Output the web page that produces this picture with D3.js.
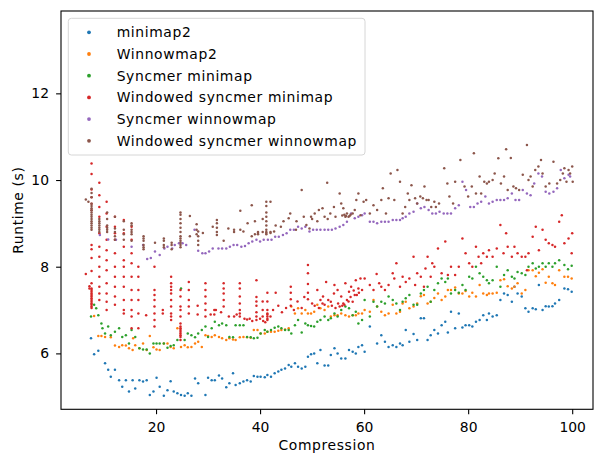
<!DOCTYPE html>
<meta charset="utf-8">
<style>
body { margin: 0; background: #fff; }
text { font-family: "DejaVu Sans", sans-serif; }
.lbl { letter-spacing: 0.62px; }
</style>
<body>
<script src="https://cdnjs.cloudflare.com/ajax/libs/d3/7.8.5/d3.min.js"></script>
<script>
// series values: [compression, runtime]
var minimap2 = [[7.5,6.35],[8.1,5.98],[8.9,6.06],[10.2,5.77],[10.8,5.62],[11.3,5.46],[12.1,5.62],[12.9,5.38],[13.5,5.23],[14.2,5.38],[14.8,5.12],[15.5,5.38],[16.0,5.19],[16.8,5.38],[17.5,5.35],[18.2,5.38],[18.8,5.04],[19.5,5.12],[20.1,5.44],[20.7,5.23],[21.5,5.02],[22.2,5.15],[22.8,5.36],[23.4,5.12],[24.1,5.08],[24.8,5.04],[25.5,5.02],[26.1,5.08],[26.8,5.02],[27.5,5.42],[28.1,5.31],[29.5,5.04],[30.0,5.44],[30.7,5.38],[31.3,5.38],[32.1,5.49],[32.7,5.42],[33.5,5.22],[34.1,5.31],[34.8,5.54],[35.3,5.27],[36.1,5.31],[36.8,5.35],[37.5,5.38],[38.2,5.35],[38.8,5.48],[39.5,5.46],[40.1,5.46],[40.9,5.45],[41.4,5.5],[42.1,5.46],[42.8,5.54],[43.5,5.58],[44.1,5.62],[44.8,5.65],[45.5,5.73],[46.0,5.69],[46.7,5.77],[47.3,5.69],[48.0,5.65],[48.7,5.69],[49.2,5.92],[49.8,5.98],[50.4,6.0],[51.0,5.77],[51.6,6.08],[52.4,5.72],[53.1,5.72],[53.6,5.96],[54.3,6.12],[54.9,6.0],[55.6,5.88],[56.4,5.88],[57.1,6.08],[57.8,6.04],[58.4,6.0],[58.9,6.15],[59.6,6.19],[60.1,6.04],[61.1,6.62],[62.5,6.23],[63.3,6.42],[64.0,6.27],[64.7,6.15],[65.5,6.19],[66.2,6.15],[66.9,6.23],[67.4,6.19],[68.0,6.54],[68.7,6.27],[69.5,6.45],[70.2,6.31],[70.9,6.81],[71.5,6.81],[72.2,6.31],[72.8,6.42],[73.5,6.54],[74.2,6.46],[74.9,6.65],[75.6,6.73],[76.1,6.48],[76.7,6.96],[77.5,6.58],[78.2,6.92],[78.9,6.6],[79.5,6.65],[80.2,6.65],[80.8,6.62],[81.5,6.73],[82.2,6.77],[82.9,6.88],[83.6,6.77],[84.0,6.92],[84.7,6.85],[85.5,6.88],[86.2,7.23],[86.9,7.38],[87.6,7.35],[88.4,7.19],[88.9,7.54],[89.5,7.38],[90.3,7.31],[91.0,7.04],[91.6,6.96],[92.4,7.04],[93.0,7.02],[93.6,7.58],[94.3,7.0],[94.9,7.09],[95.5,7.08],[96.2,7.09],[96.7,7.15],[97.5,7.23],[98.5,7.5],[99.2,7.48],[99.9,7.42]];

var winnowmap2 = [[8.1,6.86],[8.9,6.4],[9.5,6.4],[10.2,6.38],[11.3,6.37],[12.1,6.18],[12.9,6.15],[13.5,6.19],[14.2,6.18],[14.8,6.12],[15.5,6.08],[15.6,6.35],[16.0,6.19],[16.8,6.12],[17.5,6.23],[18.2,6.08],[18.8,6.4],[19.5,6.14],[20.1,6.09],[20.7,6.08],[21.5,6.23],[22.2,6.23],[22.8,6.15],[23.4,6.12],[24.1,6.58],[24.8,6.15],[25.5,6.19],[26.1,6.14],[26.8,6.15],[27.5,6.23],[28.1,6.27],[28.8,6.15],[29.5,6.42],[30.0,6.4],[30.7,6.38],[31.3,6.42],[32.1,6.38],[32.7,6.35],[33.5,6.31],[34.1,6.35],[34.8,6.32],[35.3,6.31],[36.1,6.37],[36.8,6.38],[37.5,6.37],[38.2,6.36],[38.8,6.54],[39.5,6.54],[40.1,6.46],[40.9,6.46],[41.4,6.5],[42.1,6.5],[42.8,6.5],[43.5,6.52],[44.1,6.54],[44.8,6.55],[45.5,6.58],[46.0,7.08],[46.7,6.92],[47.3,7.04],[48.0,6.92],[48.7,7.0],[49.2,6.92],[49.8,6.92],[50.4,6.96],[51.0,7.12],[51.6,7.04],[52.4,7.0],[53.1,7.08],[53.6,6.85],[54.3,6.88],[54.9,6.88],[55.6,6.92],[56.4,6.88],[57.1,6.85],[57.8,6.88],[58.4,6.88],[58.9,6.92],[59.6,6.92],[60.1,7.0],[61.1,6.96],[61.8,7.23],[62.5,7.08],[63.3,6.96],[64.0,6.88],[64.7,6.92],[65.5,7.12],[66.2,6.92],[66.9,6.96],[67.4,7.15],[68.0,7.19],[68.7,7.04],[69.5,7.08],[70.2,7.15],[70.9,7.32],[71.5,7.35],[72.2,7.15],[72.8,7.19],[73.5,7.28],[74.2,7.38],[74.9,7.23],[75.6,7.31],[76.1,7.46],[76.7,7.46],[77.5,7.52],[78.2,7.38],[78.9,7.38],[79.5,7.44],[80.2,7.31],[80.8,7.4],[81.5,7.31],[82.2,7.58],[82.9,7.38],[83.6,7.35],[84.0,7.38],[84.7,7.38],[85.5,7.4],[86.2,7.69],[86.9,7.71],[87.6,7.55],[88.4,7.5],[88.9,7.54],[89.5,7.62],[90.3,7.38],[91.0,7.46],[91.6,7.92],[92.4,7.92],[93.0,7.78],[93.6,7.86],[94.3,7.94],[94.9,7.63],[95.5,7.77],[96.2,7.62],[96.7,7.58],[97.5,7.92],[98.5,7.77],[99.2,7.77],[99.9,7.73]];

var syncmerMinimap = [[7.5,6.85],[8.1,7.12],[8.5,7.04],[8.9,6.88],[9.5,6.69],[9.7,6.58],[10.2,6.46],[10.8,6.62],[11.3,6.42],[12.1,6.5],[12.9,6.58],[13.5,6.38],[14.2,6.42],[14.8,6.23],[15.3,6.54],[16.0,6.38],[16.8,6.12],[17.5,6.09],[18.2,6.09],[18.8,6.0],[19.5,6.23],[20.1,6.23],[20.7,6.23],[21.5,6.23],[22.2,6.13],[22.8,6.17],[23.4,6.19],[24.1,6.31],[24.8,7.5],[25.5,6.31],[26.1,6.46],[26.8,6.42],[27.5,6.37],[28.1,6.46],[28.8,6.54],[29.5,6.62],[30.0,6.38],[30.7,6.58],[31.3,6.73],[32.1,6.65],[32.7,6.69],[33.5,6.65],[34.1,6.38],[34.8,6.37],[35.3,6.65],[36.1,6.65],[36.8,6.65],[37.5,6.38],[38.2,6.37],[38.8,6.35],[39.5,6.36],[40.1,6.46],[40.9,6.54],[41.4,6.5],[42.1,6.54],[42.8,6.59],[43.5,6.62],[44.1,6.58],[44.8,6.54],[45.5,6.54],[46.0,6.46],[46.7,6.65],[47.3,6.77],[48.0,6.48],[48.7,6.69],[49.2,6.65],[49.8,6.63],[50.4,6.62],[51.0,6.73],[51.6,6.77],[52.4,6.85],[53.1,6.77],[53.6,6.81],[54.3,6.92],[54.9,6.85],[55.6,7.0],[56.4,7.08],[57.1,7.04],[57.8,6.88],[58.4,6.96],[58.9,6.69],[59.6,6.77],[60.1,7.23],[61.1,6.85],[61.8,7.19],[62.5,7.08],[63.3,7.19],[64.0,7.15],[64.7,7.31],[65.5,7.23],[66.2,7.15],[66.9,7.0],[67.4,7.19],[68.0,7.27],[68.7,7.35],[69.5,7.12],[70.2,7.12],[70.9,7.38],[71.5,7.46],[72.2,7.54],[72.8,7.19],[73.5,7.46],[74.2,7.62],[74.9,7.73],[75.6,7.65],[76.1,7.73],[76.7,7.38],[77.5,7.46],[78.2,7.4],[78.9,7.58],[79.5,7.46],[80.2,7.77],[80.8,7.73],[81.5,8.0],[82.2,7.85],[82.9,7.77],[83.6,7.69],[84.0,7.62],[84.7,7.69],[85.5,8.0],[86.2,7.54],[86.9,7.81],[87.6,7.92],[88.4,7.77],[88.9,7.73],[89.5,7.88],[90.3,7.85],[91.0,7.81],[91.6,8.0],[92.4,8.08],[93.0,7.96],[93.6,8.0],[94.3,8.08],[94.9,8.0],[95.5,8.08],[96.2,8.0],[96.7,8.08],[97.5,8.15],[98.5,8.04],[99.2,7.94],[99.9,8.02]];

// windowed syncmer minimap: vertical runs at one compression, then single points
var windowedMinimapRuns = [
	[6.5,[7.83]],
	[7.2,[7.5,7.55]],
	[7.6,[10.38,10.14,9.78,9.6,9.45,9.3,8.5,8.4,8.2,7.9,7.62,7.5,7.46,7.42,7.38,7.35,7.31,7.27,7.23,7.19,7.15,7.12,7.08,7.05]],
	[9.1,[9.94,9.65,9.38,9.15,8.77,8.46,8.23,8.0,7.77,7.54,7.38,7.23]],
	[10.5,[9.5,9.23,8.92,8.62,8.38,8.15,7.92,7.62,7.38,7.19,7.0]],
	[12.1,[9.15,8.92,8.77,8.62,8.31,8.0,7.77,7.54,7.31,7.12]],
	[13.8,[9.08,8.77,8.46,8.15,8.0,7.77,7.54,7.23,7.0,6.92]],
	[15.3,[8.92,8.62,8.31,8.08,7.77,7.46,7.23,7.0,6.85,6.58]],
	[16.6,[8.0,7.77,7.46,7.23,6.92,6.58]],
	[18.1,[6.88]],
	[19.7,[8.0,7.46,7.35,7.23,7.08,6.92,6.77,6.62]],
	[21.3,[6.92,7.0]],
	[22.9,[7.77,7.62,7.54,7.46,7.38,7.23,7.08,6.92,6.85,6.77]],
	[24.7,[7.46,7.31,7.08,7.0,6.85,6.69,6.62,6.58,6.54,6.5,6.46,6.42,6.38,6.31]],
	[26.3,[7.65,7.46,7.23,7.08,6.92]],
	[28.0,[7.1,6.9]],
	[29.5,[7.62,7.46,7.31,7.15,7.0,6.85]],
	[31.2,[6.9,7.0]],
	[33.0,[7.62,7.5,7.38,7.23,7.08]],
	[36.1,[7.62,7.5,7.31,7.15,7.0,6.92,6.85]],
	[39.3,[7.69,7.3,7.2,7.1,6.95,6.85,6.77]],
	[40.5,[7.2,7.0,6.85]],
	[41.4,[7.4,7.2,7.0,6.92,6.85,6.8,6.77,6.9]],
	[45.9,[7.54,7.4,7.25,7.1]],
	[49.2,[8.04,7.85,7.6,7.4,7.25]]
];
var windowedMinimapRest = [[30.5,6.9],[31.5,7.0],[32.5,6.95],[34.0,6.85],[35.0,6.85],[35.5,6.9],[37.0,6.8],[37.5,6.78],[38.0,6.8],[38.5,6.75],[40.0,6.8],[40.6,6.75],[41.0,6.72],[42.0,6.85],[42.5,7.0],[43.0,7.4],[43.5,7.1],[44.2,6.95],[45.0,7.05],[46.5,7.0],[47.2,7.2],[48.0,7.05],[48.5,7.3],[50.0,7.15],[50.5,7.1],[51.3,7.05],[52.0,7.15],[53.8,7.1],[54.5,7.05],[55.0,7.15],[55.3,7.08],[55.8,7.1],[56.2,7.12],[57.0,7.2],[57.4,7.3],[58.0,7.45],[58.6,7.35],[59.0,7.4],[51.0,7.46],[51.6,7.23],[52.1,7.31],[52.4,7.12],[52.7,7.65],[53.1,7.23],[53.6,7.19],[54.2,7.38],[54.3,7.58],[54.9,7.46],[55.6,7.31],[56.0,7.15],[56.4,7.62],[56.7,7.23],[57.1,7.42],[57.5,7.54],[57.8,7.19],[58.2,7.35],[58.4,7.69],[58.9,7.5],[59.3,7.73],[59.6,7.46],[60.1,7.73],[61.1,7.58],[61.8,7.46],[62.4,7.83],[62.9,7.62],[63.3,7.54],[64.0,7.46],[64.7,7.58],[65.5,7.85],[65.8,7.73],[66.2,8.08],[66.9,7.54],[67.4,7.77],[68.0,7.65],[68.7,7.73],[69.5,8.23],[69.8,7.58],[70.2,7.85],[70.9,7.77],[71.5,7.54],[71.8,7.96],[72.2,8.23],[72.8,7.77],[73.1,8.08],[73.5,8.0],[74.2,8.42],[74.9,7.85],[75.6,8.58],[76.1,7.81],[76.7,8.0],[77.5,7.81],[78.2,8.0],[78.9,8.65],[79.5,8.31],[80.2,8.08],[80.8,8.0],[81.5,8.46],[82.0,8.23],[82.5,8.08],[82.9,8.31],[83.6,8.23],[84.0,8.38],[84.7,8.23],[85.5,8.42],[86.2,8.96],[86.8,8.31],[87.3,8.77],[87.6,8.46],[88.4,8.23],[88.9,8.46],[89.5,8.31],[90.3,8.23],[91.0,8.23],[91.3,7.92],[91.6,8.31],[92.4,8.69],[93.0,8.92],[93.6,8.38],[94.3,8.85],[94.9,8.62],[95.5,8.54],[96.2,8.5],[96.7,8.46],[97.5,9.04],[98.0,9.19],[98.5,8.54],[99.3,8.65],[99.9,8.31],[100.0,8.77]];

var syncmerWinnowmap = [[9.2,8.73],[10.8,8.63],[12.3,8.62],[15.3,8.46],[17.5,8.5],[18.3,8.18],[19.0,8.2],[19.8,8.35],[20.7,8.27],[21.6,8.42],[22.2,8.46],[23.1,8.42],[23.6,8.5],[24.4,8.54],[25.1,8.54],[25.8,8.5],[27.4,8.85],[28.1,8.37],[28.9,8.31],[29.5,8.31],[30.2,8.35],[30.9,8.42],[32.0,8.42],[32.7,8.42],[33.5,8.42],[34.2,8.46],[34.9,8.5],[35.6,8.5],[36.4,8.46],[37.1,8.48],[37.8,8.54],[38.5,8.58],[39.3,8.62],[40.0,8.58],[40.7,8.62],[41.5,8.62],[42.2,8.62],[42.9,8.69],[43.6,8.69],[44.4,8.73],[45.1,8.77],[45.8,8.85],[46.5,8.85],[47.3,8.92],[48.0,8.88],[48.7,8.92],[49.5,8.81],[50.2,8.85],[50.9,8.85],[51.6,8.85],[52.4,8.85],[53.1,8.85],[53.8,8.85],[54.5,8.88],[55.3,8.92],[56.0,8.96],[56.7,9.04],[57.5,9.23],[58.2,9.12],[58.9,9.15],[59.6,9.19],[60.1,9.23],[61.1,9.04],[61.8,9.04],[62.5,9.0],[63.3,9.04],[64.0,9.04],[64.7,9.04],[65.5,9.08],[66.2,9.08],[66.9,9.08],[67.4,9.12],[68.0,9.15],[68.7,9.23],[69.5,9.27],[70.2,9.46],[70.9,9.35],[71.6,9.38],[72.4,9.31],[73.1,9.23],[73.8,9.23],[74.5,9.27],[75.3,9.23],[76.0,9.23],[76.7,9.23],[77.5,9.35],[78.2,9.42],[78.9,9.96],[79.6,9.77],[80.4,9.38],[81.1,9.38],[81.8,9.46],[82.5,9.5],[83.3,9.62],[84.0,9.46],[84.7,9.5],[85.5,9.54],[86.2,9.54],[86.9,9.54],[87.6,9.58],[88.4,9.69],[89.1,9.54],[89.8,9.54],[90.5,9.77],[91.3,9.69],[92.0,9.65],[92.7,9.92],[93.5,10.15],[94.2,10.08],[94.9,9.73],[95.6,9.69],[96.4,9.73],[97.1,9.81],[97.8,10.23],[98.5,10.04],[99.3,10.12],[99.6,10.08]];

var windowedWinnowmapRuns = [
	[6.5,[9.55]],
	[7.0,[9.5]],
	[7.6,[9.8,9.7,9.6,9.45,9.4,9.35,9.3,9.25,9.2,9.15,9.1,9.05,9.0,8.95,8.9,8.85]],
	[9.1,[9.1,9.05,9.0,8.95,8.9,8.85,8.8]],
	[10.6,[9.25,9.1,8.95,8.9,8.85,8.8]],
	[12.1,[9.15,8.88,8.8,8.7,8.62]],
	[13.8,[9.05,8.85,8.75,8.62]],
	[15.3,[9.0,8.95,8.85,8.8,8.75,8.6]],
	[17.6,[8.7,8.65,8.6,8.5,8.45,8.4]],
	[19.8,[8.55]],
	[21.5,[8.65,8.6,8.5,8.45]],
	[23.0,[8.55,8.5,8.4]],
	[24.7,[9.25,9.2,9.1,9.0,8.9,8.8,8.7,8.65,8.6,8.55,8.5,8.45]],
	[26.5,[9.17,8.7]],
	[27.8,[8.98,8.85,8.75]],
	[28.1,[8.81,8.7,8.6,8.5]],
	[29.0,[8.78]],
	[30.9,[8.92]],
	[31.7,[9.08,9.0,8.9,8.8,8.73]],
	[33.0,[8.6]],
	[33.9,[8.88]],
	[35.0,[8.85,8.8]],
	[36.2,[9.29,8.85]],
	[36.8,[8.81]],
	[37.6,[9.0]],
	[38.4,[9.42,8.7]],
	[39.0,[9.05,8.75]],
	[39.6,[8.8,8.78,8.75]],
	[40.5,[9.1,8.8]],
	[41.2,[9.5,9.4,9.25,9.15,9.05,8.95,8.85,8.8,8.78,8.75]],
	[42.0,[9.5,8.8,8.78]]
];
var windowedWinnowmapRest = [[42.7,8.81],[43.0,8.95],[44.0,8.92],[44.5,9.05],[45.5,9.12],[45.8,9.23],[46.9,8.85],[47.0,9.05],[48.0,9.77],[48.4,9.15],[48.9,8.96],[49.5,8.88],[49.8,9.15],[50.0,9.1],[50.5,9.23],[51.0,9.05],[51.3,9.31],[52.0,9.35],[52.4,9.15],[52.9,9.94],[53.0,9.1],[53.5,9.23],[54.2,9.38],[54.5,9.15],[55.3,9.69],[55.6,9.46],[55.8,9.18],[56.0,9.35],[56.2,9.2],[56.4,9.15],[56.5,9.17],[56.7,9.23],[57.0,9.15],[57.2,9.17],[57.4,9.2],[57.8,9.23],[58.2,9.31],[58.5,9.54],[58.9,9.69],[59.3,9.19],[59.9,9.5],[60.4,9.54],[61.1,9.23],[61.8,9.42],[62.5,9.31],[63.3,9.54],[63.6,9.81],[64.2,9.23],[64.7,9.58],[65.1,10.15],[65.8,9.54],[66.4,10.23],[66.9,9.96],[67.4,9.23],[67.9,9.38],[68.4,9.69],[68.7,9.54],[69.1,9.88],[69.8,9.58],[70.2,9.46],[70.8,9.62],[71.3,9.58],[71.6,9.85],[72.0,9.54],[72.4,9.54],[72.9,9.38],[73.5,9.5],[73.8,9.38],[74.4,9.46],[75.4,10.27],[76.0,9.92],[76.4,9.62],[77.1,9.46],[77.5,9.96],[78.5,10.46],[79.3,9.85],[80.0,9.62],[80.7,9.85],[81.1,10.62],[81.5,9.69],[82.2,10.08],[82.5,9.69],[83.1,9.96],[83.6,9.92],[84.0,9.96],[84.7,10.0],[85.1,10.15],[85.8,10.5],[86.3,9.92],[86.9,10.08],[87.3,10.71],[87.6,9.77],[88.2,10.51],[88.7,9.85],[89.2,9.81],[89.8,9.77],[90.5,10.12],[91.3,10.81],[91.6,10.0],[92.0,10.08],[92.4,9.85],[92.9,10.23],[93.5,10.31],[94.0,10.46],[94.3,10.15],[94.9,9.85],[95.6,9.92],[96.4,10.42],[97.1,9.92],[97.7,10.0],[98.2,10.15],[98.5,10.27],[98.9,9.96],[99.3,10.23],[99.6,10.15],[100.0,10.31],[100.1,9.96]];

var seriesNames = ["minimap2", "Winnowmap2", "Syncmer minimap", "Windowed syncmer minimap", "Syncmer winnowmap", "Windowed syncmer winnowmap"];
var colors = ["#1f77b4", "#ff7f0e", "#2ca02c", "#d62728", "#9467bd", "#8c564b"];
var xTicks = [20, 40, 60, 80, 100];
var yTicks = [6, 8, 10, 12];

function unroll(runs) {
	var out = [];
	runs.forEach(function(r) { r[1].forEach(function(v) { out.push([r[0], v]); }); });
	return out;
}

var series = [
	minimap2,
	winnowmap2,
	syncmerMinimap,
	unroll(windowedMinimapRuns).concat(windowedMinimapRest),
	syncmerWinnowmap,
	unroll(windowedWinnowmapRuns).concat(windowedWinnowmapRest)
];

var w = 594, h = 454;
// plot box (window.top is reserved, so keep these in one object)
var box = {left: 61, right: 593, top: 11, bottom: 409.3};
var fs = 13.9;

var x = d3.scaleLinear().domain([1.73, 104.0]).range([box.left, box.right]);
var y = d3.scaleLinear().domain([4.71, 13.9]).range([box.bottom, box.top]);

var svg = d3.select("body").append("svg")
	.attr("width", w)
	.attr("height", h);

// points
series.forEach(function(pts, i) {
	svg.append("g")
		.selectAll("circle")
		.data(pts)
		.enter()
		.append("circle")
		.attr("cx", function(d) { return x(d[0]); })
		.attr("cy", function(d) { return y(d[1]); })
		.attr("r", 1.25)
		.attr("fill", colors[i]);
});

// axes
var gx = svg.append("g")
	.attr("transform", "translate(0," + box.bottom + ")")
	.call(d3.axisBottom(x).tickValues(xTicks).tickSize(4.9).tickPadding(7.5).tickFormat(d3.format("d")));
var gy = svg.append("g")
	.attr("transform", "translate(" + box.left + ",0)")
	.call(d3.axisLeft(y).tickValues(yTicks).tickSize(4.9).tickPadding(7.1).tickFormat(d3.format("d")));
[gx, gy].forEach(function(g) {
	g.select(".domain").remove();
	g.selectAll(".tick line").attr("stroke", "#000").attr("stroke-width", 1.1);
	g.selectAll(".tick text")
		.attr("fill", "#000")
		.style("font-family", "DejaVu Sans")
		.style("font-size", fs + "px");
});

svg.append("rect")
	.attr("x", box.left)
	.attr("y", box.top)
	.attr("width", box.right - box.left)
	.attr("height", box.bottom - box.top)
	.attr("fill", "none")
	.attr("stroke", "#000")
	.attr("stroke-width", 1.1);

svg.append("text")
	.attr("class", "lbl")
	.attr("x", (box.left + box.right) / 2)
	.attr("y", 450)
	.attr("text-anchor", "middle")
	.style("font-size", fs + "px")
	.text("Compression");

svg.append("text")
	.attr("class", "lbl")
	.attr("transform", "translate(22.5," + ((box.top + box.bottom) / 2) + ") rotate(-90)")
	.attr("text-anchor", "middle")
	.style("font-size", fs + "px")
	.text("Runtime (s)");

// legend
var lg = svg.append("g");
lg.append("rect")
	.attr("x", 68.3)
	.attr("y", 18.3)
	.attr("width", 296.7)
	.attr("height", 136.7)
	.attr("rx", 3)
	.attr("fill", "#fff")
	.attr("fill-opacity", 0.8)
	.attr("stroke", "#d6d6d6")
	.attr("stroke-width", 1);
seriesNames.forEach(function(name, i) {
	var cy = 32.3 + i * 21.7;
	lg.append("circle")
		.attr("cx", 89)
		.attr("cy", cy)
		.attr("r", 1.9)
		.attr("fill", colors[i]);
	lg.append("text")
		.attr("class", "lbl")
		.attr("x", 116.7)
		.attr("y", cy + 5)
		.style("font-size", fs + "px")
		.text(name);
});
</script>
</body>
